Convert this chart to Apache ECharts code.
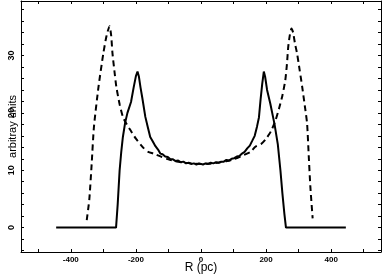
<!DOCTYPE html>
<html>
<head>
<meta charset="utf-8">
<script src="https://cdn.jsdelivr.net/npm/echarts@6/dist/echarts.min.js"></script>
<style>
html,body{margin:0;padding:0;background:#fff;}
#chart{width:382px;height:274px;}
</style>
</head>
<body>
<div id="chart"></div>
<script>
// Solid curve
const solidR = [-445,-261,-256,-250,-245,-240,-233,-226,-215,-207,-200,-195,-191,-186,-180,-171,-163,-156,-148,-140,-132,-125,-118,-110,-102,-94,-86,-78,-70,-62,-54,-46,-38,-30,-22,-14,-6,0,6,14,22,30,38,46,54,62,70,78,86,94,102,110,118,126,134,142,150,158,165,172,178,183,188,193,197,203,213,226,236,244,250,256,261,445];
const solidV = [0,0,4,10,13.2,15.8,18.3,20.0,21.9,24.4,26.4,27.2,26.4,24.5,22.5,19.3,17.4,15.8,15.0,14.2,13.6,12.9,12.8,12.4,12.3,11.9,11.9,11.6,11.7,11.4,11.5,11.2,11.3,11.1,11.2,11.0,11.2,11.1,11.0,11.2,11.1,11.3,11.2,11.4,11.3,11.5,11.5,11.8,11.7,12.0,12.1,12.4,12.5,12.9,13.2,13.8,14.3,15.2,16.0,17.6,19.2,22.3,25.0,27.2,26.3,24.0,21.6,18.0,14.5,10,6,2.5,0,0];
// Dashed curve
const dashR = [-351,-343,-336,-329,-315,-300,-290,-281,-276,-272,-266,-260,-250,-240,-233,-217,-200,-177,-162,-146,-120,-100,-80,-50,-25,0,25,50,80,100,121,152,167,185,200,215,229,240,250,259,264,268,273,278,283,289,295,303,311,319,326,331,336,343];
const dashV = [1.3,5,11,17.5,24.5,30.4,33.5,35.1,33.5,30.4,27.3,24.5,21.5,19.3,18.5,17.0,15.5,13.9,13.2,12.9,12.3,11.9,11.6,11.3,11.15,11.1,11.15,11.3,11.6,11.9,12.4,13.2,14.1,14.6,15.5,16.8,18.7,20.8,23.0,25.7,28.5,31.5,33.6,34.7,34.0,32.0,30.4,27.5,24.5,21.2,18.1,12.5,7.1,1.6];
// Ticks and labels
const xTicks = [-500,-400,-300,-200,-100,0,100,200,300,400,500];
const xLabels = [-400,-200,0,200,400];
const yTicks = [-4,-2,0,2,4,6,8,10,12,14,16,18,20,22,24,26,28,30,32,34,36,38];
const yLabels = [0,10,20,30];

const zip = (a,b) => a.map((v,i)=>[v,b[i]]);
const chart = echarts.init(document.getElementById('chart'), null, {renderer:'canvas'});
const lab = {fontSize:8, fontWeight:'bold', color:'#000', fontFamily:'Liberation Sans'};
const axLine = {show:true, onZero:false, lineStyle:{color:'#000', width:1}};
const tick = (vals)=>({show:true, inside:true, length:3, customValues:vals, lineStyle:{color:'#000', width:1}});
chart.setOption({
  animation:false,
  backgroundColor:'#fff',
  grid:{left:21, right:1, top:1, bottom:22, containLabel:false, outerBoundsMode:'none'},
  xAxis:[
    {type:'value', min:-553, max:553, position:'bottom',
     axisLine:axLine, axisTick:tick(xTicks), splitLine:{show:false},
     axisLabel:Object.assign({customValues:xLabels, margin:4}, lab),
     name:'R (pc)', nameLocation:'middle', nameGap:10, nameMoveOverlap:false,
     nameTextStyle:{fontSize:12, color:'#000', fontFamily:'Liberation Sans'}},
    {type:'value', min:-553, max:553, position:'top',
     axisLine:axLine, axisTick:tick(xTicks), splitLine:{show:false}, axisLabel:{show:false}}
  ],
  yAxis:[
    {type:'value', min:-4.25, max:39.5, position:'left',
     axisLine:axLine, axisTick:tick(yTicks), splitLine:{show:false},
     axisLabel:Object.assign({customValues:yLabels, rotate:90, margin:5}, lab, {fontSize:9}),
     name:'arbitray units', nameLocation:'middle', nameGap:3, nameMoveOverlap:false,
     nameTextStyle:{fontSize:11, color:'#000', fontFamily:'Liberation Sans'}},
    {type:'value', min:-4.25, max:39.5, position:'right',
     axisLine:axLine, axisTick:tick(yTicks), splitLine:{show:false}, axisLabel:{show:false}}
  ],
  series:[
    {type:'line', data:zip(solidR, solidV), showSymbol:false, smooth:false,
     lineStyle:{color:'#000', width:2}},
    {type:'line', data:zip(dashR, dashV), showSymbol:false, smooth:0.2,
     lineStyle:{color:'#000', width:2, type:[6,4]}}
  ]
});
</script>
</body>
</html>
